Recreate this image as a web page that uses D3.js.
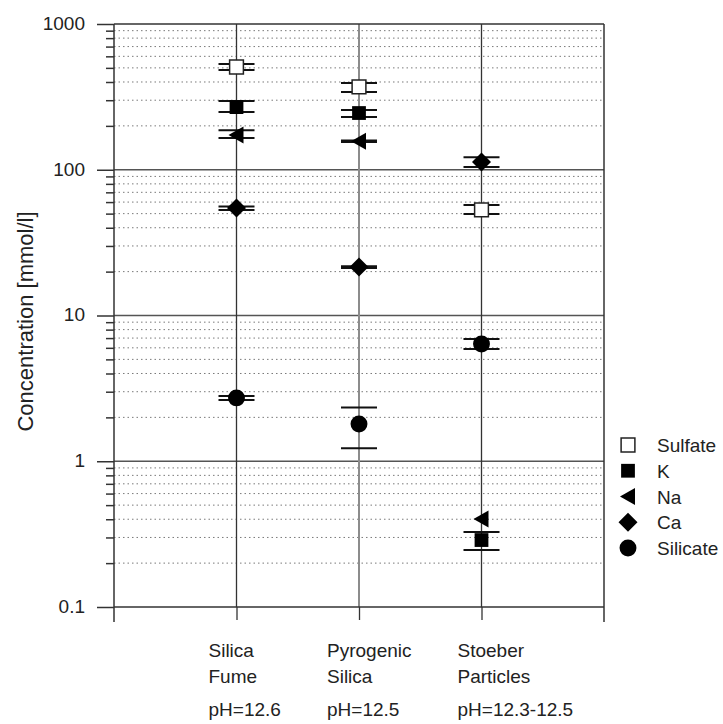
<!DOCTYPE html>
<html>
<head>
<meta charset="utf-8">
<script src="https://cdn.jsdelivr.net/npm/d3@7"></script>
<style>
  html, body { margin: 0; padding: 0; background: #fff; overflow: hidden; }
  svg { display: block; }
</style>
</head>
<body>
<svg id="canvas"></svg>
<script>
// categories (x positions 1..3)
const categories = [["Silica", "Fume"], ["Pyrogenic", "Silica"], ["Stoeber", "Particles"]];
const phLabels = ["pH=12.6", "pH=12.5", "pH=12.3-12.5"];
const seriesNames = ["Sulfate", "K", "Na", "Ca", "Silicate"];

// values per series, one per category [mmol/l]
const sulfate = [507, 370, 53];
const potassium = [269, 245, 0.288];
const sodium = [173, 157, 0.402];
const calcium = [54.7, 21.5, 113];
const silicate = [2.72, 1.80, 6.37];

// error bar limits [low, high]
const sulfateErr = [[483, 531], [341, 394], [49.7, 57.3]];
const potassiumErr = [[249, 296], [230, 257], [0.246, 0.327]];
const sodiumErr = [[165, 187], [155, 159], null];
const calciumErr = [[53, 56], [21.2, 21.8], [104.5, 122]];
const silicateErr = [[2.63, 2.80], [1.23, 2.34], [5.89, 6.90]];

const yMajor = [0.1, 1, 10, 100, 1000];

const font = "Liberation Sans, Arial, sans-serif";
const width = 723;
const height = 724;
const margin = {top: 24, right: 119, bottom: 117, left: 114};
const innerWidth = width - margin.left - margin.right;
const innerHeight = height - margin.top - margin.bottom;

const svg = d3.select("#canvas").attr("width", width).attr("height", height)
    .attr("font-family", font);

const xScale = d3.scaleLinear().domain([0, 4]).range([margin.left, margin.left + innerWidth]);
const yScale = d3.scaleLog().domain([0.1, 1000]).range([margin.top + innerHeight, margin.top]);

const yMinor = [];
for (let d = 0.1; d < 1000; d *= 10) {
    for (let k = 2; k <= 9; k++) yMinor.push(+(d * k).toPrecision(3));
}

const grid = svg.append("g").classed("grid", true);
// dotted minor gridlines
grid.selectAll("line.minor")
    .data(yMinor)
    .join("line")
    .attr("class", "minor")
    .attr("x1", xScale(0)).attr("x2", xScale(4))
    .attr("y1", d => yScale(d)).attr("y2", d => yScale(d))
    .attr("stroke", "#7a7a7a")
    .attr("stroke-width", 1)
    .attr("stroke-dasharray", "1.5,3");
// major gridlines
grid.selectAll("line.major")
    .data(yMajor.slice(1, 4))
    .join("line")
    .attr("class", "major")
    .attr("x1", xScale(0)).attr("x2", xScale(4))
    .attr("y1", d => yScale(d)).attr("y2", d => yScale(d))
    .attr("stroke", "#555")
    .attr("stroke-width", 1.5);
// vertical category lines
grid.selectAll("line.cat")
    .data([1, 2, 3])
    .join("line")
    .attr("class", "cat")
    .attr("x1", d => xScale(d)).attr("x2", d => xScale(d))
    .attr("y1", yScale(1000)).attr("y2", yScale(0.1))
    .attr("stroke", d => d === 2 ? "#8c8c8c" : "#333")
    .attr("stroke-width", d => d === 2 ? 2 : 1.3);

// frame
const frame = svg.append("g").classed("frame", true)
    .attr("stroke", "#333").attr("stroke-width", 1.5);
frame.append("line").attr("x1", xScale(0)).attr("x2", xScale(4)).attr("y1", yScale(1000)).attr("y2", yScale(1000));
frame.append("line").attr("x1", xScale(0)).attr("x2", xScale(4)).attr("y1", yScale(0.1)).attr("y2", yScale(0.1));
frame.append("line").attr("x1", xScale(0)).attr("x2", xScale(0)).attr("y1", yScale(1000)).attr("y2", yScale(0.1) + 15);
frame.append("line").attr("x1", xScale(4)).attr("x2", xScale(4)).attr("y1", yScale(1000)).attr("y2", yScale(0.1) + 15);

// y axis: major and minor ticks
const yAxisMajor = d3.axisLeft(yScale).tickValues(yMajor).tickSize(17).tickPadding(12)
    .tickFormat(d => d3.format("~g")(d));
svg.append("g")
    .attr("transform", `translate(${margin.left}, 0)`)
    .call(yAxisMajor)
    .attr("font-size", 19)
    .attr("font-family", font)
    .call(g => g.select(".domain").remove())
    .call(g => g.selectAll(".tick line").attr("stroke", "#333").attr("stroke-width", 1.5))
    .call(g => g.selectAll(".tick text")
        .attr("fill", "#222")
        .attr("dy", "0.28em"));

const yAxisMinor = d3.axisLeft(yScale).tickValues(yMinor).tickSize(8).tickFormat("");
svg.append("g")
    .attr("transform", `translate(${margin.left}, 0)`)
    .call(yAxisMinor)
    .call(g => g.select(".domain").remove())
    .call(g => g.selectAll(".tick line").attr("stroke", "#333").attr("stroke-width", 1.5));

// x axis ticks
const xAxis = d3.axisBottom(xScale).tickValues([1, 2, 3]).tickSize(13).tickFormat("");
svg.append("g")
    .attr("transform", `translate(0, ${yScale(0.1)})`)
    .call(xAxis)
    .call(g => g.select(".domain").remove())
    .call(g => g.selectAll(".tick line").attr("stroke", "#333").attr("stroke-width", 1.3));

// y axis title
svg.append("text")
    .attr("transform", `translate(33, ${(yScale(1000) + yScale(0.1)) / 2 + 6}) rotate(-90)`)
    .attr("text-anchor", "middle")
    .attr("font-size", 22)
    .attr("fill", "#222")
    .text("Concentration [mmol/l]");

// category labels
const labelDx = [-28, -32, -24];
const labelRows = [657, 683, 716];
categories.forEach((c, i) => {
    const x = xScale(i + 1) + labelDx[i];
    svg.selectAll(null)
        .data([c[0], c[1], phLabels[i]])
        .join("text")
        .attr("x", x)
        .attr("y", (d, j) => labelRows[j])
        .attr("font-size", 19)
        .attr("fill", "#222")
        .text(d => d);
});

// marker shapes
const symbols = {
    Sulfate: {path: d3.symbol(d3.symbolSquare, 190)(), fill: "#fff", stroke: "#222"},
    K: {path: d3.symbol(d3.symbolSquare, 190)(), fill: "#000", stroke: "none"},
    Na: {path: "M-8,0L7,-8.5L7,8.5Z", fill: "#000", stroke: "none"},
    Ca: {path: "M0,-9.5L9.5,0L0,9.5L-9.5,0Z", fill: "#000", stroke: "none"},
    Silicate: {path: d3.symbol(d3.symbolCircle, 225)(), fill: "#000", stroke: "none"}
};

const seriesValues = [sulfate, potassium, sodium, calcium, silicate];
const seriesErrors = [sulfateErr, potassiumErr, sodiumErr, calciumErr, silicateErr];

const points = [];
seriesNames.forEach((name, s) => {
    seriesValues[s].forEach((v, i) => {
        points.push({series: name, x: i + 1, value: v, err: seriesErrors[s][i]});
    });
});

const marks = svg.append("g").classed("marks", true);
// error bar caps
const capHalf = 18;
points.filter(d => d.err).forEach(d => {
    d.err.forEach(e => {
        marks.append("line")
            .attr("x1", xScale(d.x) - capHalf).attr("x2", xScale(d.x) + capHalf)
            .attr("y1", yScale(e)).attr("y2", yScale(e))
            .attr("stroke", "#111").attr("stroke-width", 2);
    });
});
marks.selectAll("path")
    .data(points)
    .join("path")
    .attr("transform", d => `translate(${xScale(d.x)}, ${yScale(d.value)})`)
    .attr("d", d => symbols[d.series].path)
    .attr("fill", d => symbols[d.series].fill)
    .attr("stroke", d => symbols[d.series].stroke)
    .attr("stroke-width", 1.5);

// legend
const legend = svg.append("g").classed("legend", true);
const legendY = d3.scalePoint().domain(seriesNames).range([445, 548]);
legend.selectAll("path")
    .data(seriesNames)
    .join("path")
    .attr("transform", d => `translate(628, ${legendY(d)})`)
    .attr("d", d => symbols[d].path)
    .attr("fill", d => symbols[d].fill)
    .attr("stroke", d => symbols[d].stroke)
    .attr("stroke-width", 1.5);
legend.selectAll("text")
    .data(seriesNames)
    .join("text")
    .attr("x", 657)
    .attr("y", d => legendY(d) + 7)
    .attr("font-size", 19)
    .attr("fill", "#222")
    .text(d => d);
</script>
</body>
</html>
